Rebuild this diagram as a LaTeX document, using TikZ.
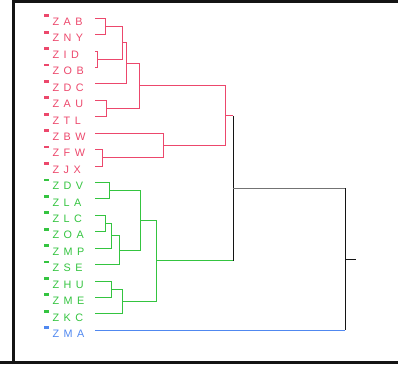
\documentclass[tikz,border=0pt]{standalone}
\usepackage{fontspec}
\setmainfont{Liberation Sans}[LetterSpace=42]
\definecolor{cred}{RGB}{236,72,108}
\definecolor{cgreen}{RGB}{52,196,64}
\definecolor{cblue}{RGB}{80,136,240}
\definecolor{cblack}{RGB}{20,20,20}
\begin{document}
\begin{tikzpicture}[x=1pt,y=-1pt,
  lbl/.style={anchor=base west,inner sep=0pt,font=\fontsize{10.8}{12}\selectfont},
  mk/.style={rectangle,inner sep=0pt,minimum width=5pt,minimum height=2.8pt},
  br/.style={line width=1pt},
  frame/.style={line width=3pt,cblack}]
\useasboundingbox (0,0) rectangle (398,364);
\draw[frame] (13.5,364) -- (13.5,1.5) -- (398,1.5);
\draw[frame] (0,362.5) -- (398,362.5);
% leaves
\foreach \i/\t/\c in {1/ZAB/cred,2/ZNY/cred,3/ZID/cred,4/ZOB/cred,5/ZDC/cred,6/ZAU/cred,7/ZTL/cred,8/ZBW/cred,9/ZFW/cred,10/ZJX/cred,11/ZDV/cgreen,12/ZLA/cgreen,13/ZLC/cgreen,14/ZOA/cgreen,15/ZMP/cgreen,16/ZSE/cgreen,17/ZHU/cgreen,18/ZME/cgreen,19/ZKC/cgreen,20/ZMA/cblue}{
  \pgfmathsetmacro{\yy}{18.3+16.42*(\i-1)}
  \node[mk,fill=\c] (k\i) at (46,\yy-2.6) {};
  \node[lbl,text=\c] (t\i) at (52.3,\yy+7.2) {\t};
  \coordinate (l\i) at (95,\yy);
}
% merge points
\coordinate (m1) at (105,26.15);
\coordinate (m2) at (97.3,59.5);
\coordinate (m3) at (122.7,42.8);
\coordinate (m4) at (126.7,63.2);
\coordinate (m5) at (106,108.1);
\coordinate (m6) at (139,85.7);
\coordinate (m7) at (102.7,157.1);
\coordinate (m8) at (163.3,145);
\coordinate (m9) at (225.3,115.9);
\coordinate (m10) at (109.3,190.6);
\coordinate (m11) at (105.3,223.4);
\coordinate (m12) at (111.7,235.5);
\coordinate (m13) at (119.3,250);
\coordinate (m14) at (140,220.3);
\coordinate (m15) at (111.7,289.1);
\coordinate (m16) at (122.7,301.3);
\coordinate (m17) at (156.7,260.8);
\coordinate (m18) at (233.3,188.3);
\coordinate (m19) at (345,259.4);
\coordinate (root) at (356,259.4);
% red cluster
\draw[br,cred] (l1) -| (m1) (l2) -| (m1)
  (l3) -| (m2) (l4) -| (m2)
  (m1) -| (m3) (m2) -| (m3)
  (m3) -| (m4) (l5) -| (m4)
  (l6) -| (m5) (l7) -| (m5)
  (m4) -| (m6) (m5) -| (m6)
  (l9) -| (m7) (l10) -| (m7)
  (l8) -| (m8) (m7) -| (m8)
  (m6) -| (m9) (m8) -| (m9)
  (m9) -- (m9 -| m18);
% green cluster
\draw[br,cgreen] (l11) -| (m10) (l12) -| (m10)
  (l13) -| (m11) (l14) -| (m11)
  (m11) -| (m12) (l15) -| (m12)
  (m12) -| (m13) (l16) -| (m13)
  (m10) -| (m14) (m13) -| (m14)
  (l17) -| (m15) (l18) -| (m15)
  (m15) -| (m16) (l19) -| (m16)
  (m14) -| (m17) (m16) -| (m17)
  (m17) -- (m17 -| m18);
% blue
\draw[br,cblue] (l20) -- (l20 -| m19);
% black
\draw[br,cblack] (m9 -| m18) -- (m17 -| m18);
\draw[br,black!55] (m18) -- (m18 -| m19);
\draw[br,cblack] (m18 -| m19) -- (l20 -| m19);
\draw[br,cblack] (m19) -- (root);
\end{tikzpicture}
\end{document}
